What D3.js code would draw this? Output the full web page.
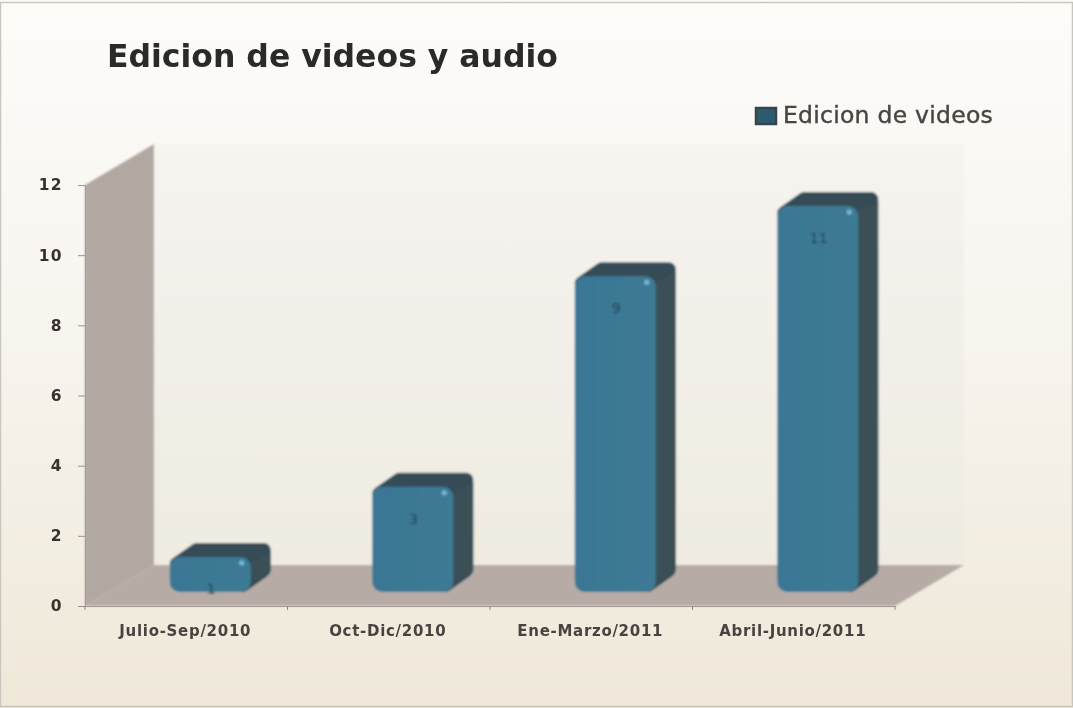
<!DOCTYPE html>
<html>
<head>
<meta charset="utf-8">
<script src="https://cdn.jsdelivr.net/npm/d3@7"></script>
<style>
  html, body { margin: 0; padding: 0; background: #f3eee3; overflow: hidden; }
</style>
</head>
<body>
<svg id="chart" width="1073" height="708"></svg>
<script>
const categories = ['Julio-Sep/2010', 'Oct-Dic/2010', 'Ene-Marzo/2011', 'Abril-Junio/2011'];
const videoValues = [1, 3, 9, 11];
const yTicks = [0, 2, 4, 6, 8, 10, 12];
const chartTitle = 'Edicion de videos y audio';
const seriesName = 'Edicion de videos';

const width = 1073;
const height = 708;
const fontName = '"DejaVu Sans", sans-serif';
const plot = { left: 85, right: 895, top: 185, bottom: 606 };
// 3d offset of the back wall from the front of the floor
const depth = { x: 69, y: -41 };
// bars sit partway back on the floor
const barShift = { x: 24, y: -14 };
const barDepth = { x: 20, y: -14 };

const xScale = d3.scaleBand().domain(categories).range([plot.left, plot.right]);
const yScale = d3.scaleLinear().domain([0, 12]).range([plot.bottom, plot.top]);
const barWidth = xScale.bandwidth() * 0.4;

const svg = d3.select('#chart');
const defs = svg.append('defs');

const bg = defs.append('linearGradient').attr('id', 'bg').attr('x1', 0).attr('y1', 0).attr('x2', 0).attr('y2', 1);
bg.append('stop').attr('offset', '0%').attr('stop-color', '#fdfcf9');
bg.append('stop').attr('offset', '45%').attr('stop-color', '#f8f5ef');
bg.append('stop').attr('offset', '100%').attr('stop-color', '#efe8d9');

const wall = defs.append('linearGradient').attr('id', 'wall').attr('x1', 0).attr('y1', 0).attr('x2', 0).attr('y2', 1);
wall.append('stop').attr('offset', '0%').attr('stop-color', '#f6f4f0');
wall.append('stop').attr('offset', '100%').attr('stop-color', '#efebe1');

const face = defs.append('linearGradient').attr('id', 'face').attr('x1', 0).attr('y1', 0).attr('x2', 1).attr('y2', 0);
face.append('stop').attr('offset', '0%').attr('stop-color', '#3a7795');
face.append('stop').attr('offset', '100%').attr('stop-color', '#3d7a94');

// the source is a soft screenshot
defs.append('filter').attr('id', 'soft').append('feGaussianBlur').attr('stdDeviation', 0.9);
defs.append('filter').attr('id', 'softText').append('feGaussianBlur').attr('stdDeviation', 0.55);

//Background and frame
svg.append('rect').attr('width', width).attr('height', height).attr('fill', 'url(#bg)');
svg.append('rect')
  .attr('x', 0.5).attr('y', 2.5).attr('width', width - 1).attr('height', height - 4)
  .attr('fill', 'none').attr('stroke', '#c9c5bf').attr('stroke-width', 1.5);

const scene = svg.append('g').attr('filter', 'url(#soft)');

//Back wall
scene.append('rect')
  .attr('x', plot.left + depth.x).attr('y', plot.top + depth.y)
  .attr('width', plot.right - plot.left)
  .attr('height', plot.bottom - plot.top)
  .attr('fill', 'url(#wall)');

//Side wall
const sideWall = [
  [plot.left, plot.top],
  [plot.left + depth.x, plot.top + depth.y],
  [plot.left + depth.x, plot.bottom + depth.y],
  [plot.left, plot.bottom],
];
scene.append('path').attr('d', d3.line()(sideWall) + 'Z').attr('fill', '#b2a8a2');

//Floor
const floor = [
  [plot.left, plot.bottom],
  [plot.left + depth.x, plot.bottom + depth.y],
  [plot.right + depth.x, plot.bottom + depth.y],
  [plot.right, plot.bottom],
];
scene.append('path').attr('d', d3.line()(floor) + 'Z').attr('fill', '#b6aca5');

//Axes
const yAxis = d3.axisLeft(yScale).tickValues(yTicks).tickSize(7).tickPadding(15);
const yG = svg.append('g').attr('transform', `translate(${plot.left},0)`).call(yAxis);
yG.select('.domain').attr('stroke', '#a39a95');
yG.selectAll('line').attr('stroke', '#9a9590');
yG.selectAll('text')
  .attr('font-family', fontName)
  .attr('font-weight', 700).attr('font-size', 15.5).attr('letter-spacing', 1.4).attr('fill', '#38322f')
  .attr('filter', 'url(#softText)');

const xAxis = d3.axisBottom(xScale).tickSize(0).tickPadding(19);
const xG = svg.append('g').attr('transform', `translate(0,${plot.bottom})`).call(xAxis);
xG.select('.domain').attr('stroke', '#a39a95');
xG.selectAll('text')
  .attr('dx', -1)
  .attr('font-family', fontName)
  .attr('font-weight', 700).attr('font-size', 15).attr('letter-spacing', 0.7).attr('fill', '#4a4340')
  .attr('filter', 'url(#softText)');
svg.append('g').selectAll('line')
  .data(categories.map((c) => xScale(c)).concat(plot.right))
  .join('line')
  .attr('x1', (d) => d).attr('x2', (d) => d)
  .attr('y1', plot.bottom).attr('y2', plot.bottom + 4)
  .attr('stroke', '#8f8a85');

//Bars
const bars = scene.selectAll('.bar')
  .data(categories.map((c, i) => ({ category: c, value: videoValues[i] })))
  .join('g')
  .attr('class', 'bar')
  .attr('transform', (d) => `translate(${xScale(d.category) + xScale.bandwidth() / 2 + barShift.x - barWidth / 2},${barShift.y})`);

// dark top and side as one rounded silhouette
bars.append('path')
  .attr('d', (d) => {
    const top = yScale(d.value);
    const bottom = yScale(0);
    return d3.line()([
      [7, top + 7],
      [barDepth.x + 7, top + barDepth.y + 7],
      [barWidth + barDepth.x - 7, top + barDepth.y + 7],
      [barWidth + barDepth.x - 7, bottom + barDepth.y - 8],
      [barWidth - 8, bottom - 7],
    ]) + 'Z';
  })
  .attr('fill', '#344c57')
  .attr('stroke', '#344c57')
  .attr('stroke-width', 14)
  .attr('stroke-linejoin', 'round');

// slightly lighter band on the side face
bars.append('path')
  .attr('d', (d) => {
    const top = yScale(d.value);
    const bottom = yScale(0);
    return d3.line()([
      [barWidth, top + 5],
      [barWidth + barDepth.x, top + barDepth.y + 10],
      [barWidth + barDepth.x, bottom + barDepth.y - 7],
      [barWidth, bottom - 8],
    ]) + 'Z';
  })
  .attr('fill', '#3a4f57');

bars.append('rect')
  .attr('y', (d) => yScale(d.value))
  .attr('width', barWidth)
  .attr('height', (d) => yScale(0) - yScale(d.value))
  .attr('rx', 10)
  .attr('fill', 'url(#face)');

// small highlight at the upper right of each front face
bars.append('circle')
  .attr('cx', barWidth - 9)
  .attr('cy', (d) => yScale(d.value) + 6)
  .attr('r', 2.6)
  .attr('fill', '#74b7d8');

//Value labels
bars.append('text')
  .attr('x', barWidth / 2 + 1)
  .attr('y', (d) => yScale(d.value) + 37)
  .attr('text-anchor', 'middle')
  .attr('font-family', fontName)
  .attr('font-size', 14)
  .attr('fill', '#24414f')
  .text((d) => d.value);

//Title
svg.append('text')
  .attr('x', 107).attr('y', 67)
  .attr('font-family', fontName)
  .attr('font-weight', 700).attr('font-size', 31.5).attr('fill', '#2c2a2a')
  .attr('filter', 'url(#softText)')
  .text(chartTitle);

//Legend
svg.append('rect')
  .attr('x', 756).attr('y', 108).attr('width', 20).attr('height', 16)
  .attr('fill', '#2f5a70').attr('stroke', '#34444c').attr('stroke-width', 2.5)
  .attr('filter', 'url(#softText)');
svg.append('text')
  .attr('x', 783).attr('y', 123)
  .attr('font-family', fontName)
  .attr('font-size', 23.5).attr('letter-spacing', 0.25).attr('fill', '#4a4442').attr('stroke', '#4a4442').attr('stroke-width', 0.4)
  .attr('filter', 'url(#softText)')
  .text(seriesName);
</script>
</body>
</html>
